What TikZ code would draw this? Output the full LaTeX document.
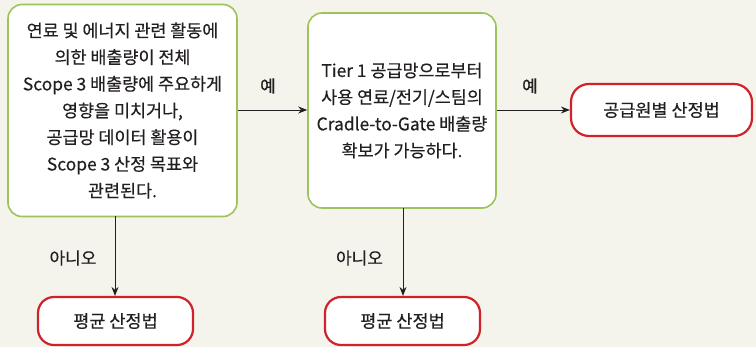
\documentclass[tikz,border=0pt]{standalone}
\usepackage{fontspec}
\setmainfont[FakeBold=0.35]{Noto Sans CJK KR}
\usetikzlibrary{arrows.meta}
\definecolor{bg}{HTML}{F5F4EC}
\definecolor{gborder}{HTML}{9DC35A}
\definecolor{rborder}{HTML}{D0222B}
\definecolor{txt}{HTML}{231F20}
\tikzset{
  qbox/.style={draw=gborder, line width=1.6pt, fill=white, rounded corners=14pt, align=center,
    font=\fontsize{17.4}{26.7}\selectfont, text=txt, inner sep=0pt},
  rbox/.style={draw=rborder, line width=2.2pt, fill=white, rounded corners=16pt, align=center,
    font=\fontsize{17.5}{20}\selectfont, text=txt, inner sep=0pt},
  conn/.style={draw=txt, line width=0.8pt, -{Stealth[length=9pt,width=7pt]}},
  lbl/.style={font=\fontsize{17}{20}\selectfont, text=txt}
}
\begin{document}
\begin{tikzpicture}[x=1pt,y=-1pt]
\fill[bg] (0,0) rectangle (756,347);
\useasboundingbox (0,0) rectangle (756,347);
\node[qbox, minimum width=229pt, minimum height=212pt] (q1) at (122.5,110.5)
  {연료 및 에너지 관련 활동에\\의한 배출량이 전체\\Scope 3 배출량에 주요하게\\영향을 미치거나,\\공급망 데이터 활용이\\Scope 3 산정 목표와\\관련된다.};
\node[qbox, minimum width=188pt, minimum height=195pt] (q2) at (402,110.5)
  {Tier 1 공급망으로부터\\사용 연료/전기/스팀의\\Cradle-to-Gate 배출량\\확보가 가능하다.};
\node[rbox, minimum width=181pt, minimum height=52pt, rounded corners=18pt] (r1) at (661.5,110)
  {공급원별 산정법};
\node[rbox, minimum width=155pt, minimum height=48pt] (a1) at (115.5,321) {평균 산정법};
\node[rbox, minimum width=155pt, minimum height=48pt] (a2) at (402.5,321) {평균 산정법};
\draw[conn] (q1.east |- 0,110) -- (q2.west |- 0,110);
\draw[conn] (q2.east |- 0,110) -- (r1.west |- 0,110);
\draw[conn] (115,216.5) -- (a1.north -| 115,0);
\draw[conn] (403,208) -- (a2.north -| 403,0);
\node[lbl] (y1) at (268,86) {예};
\node[lbl] (y2) at (530,86) {예};
\node[lbl] (n1) at (73,258) {아니오};
\node[lbl] (n2) at (359.5,258) {아니오};
\end{tikzpicture}
\end{document}
